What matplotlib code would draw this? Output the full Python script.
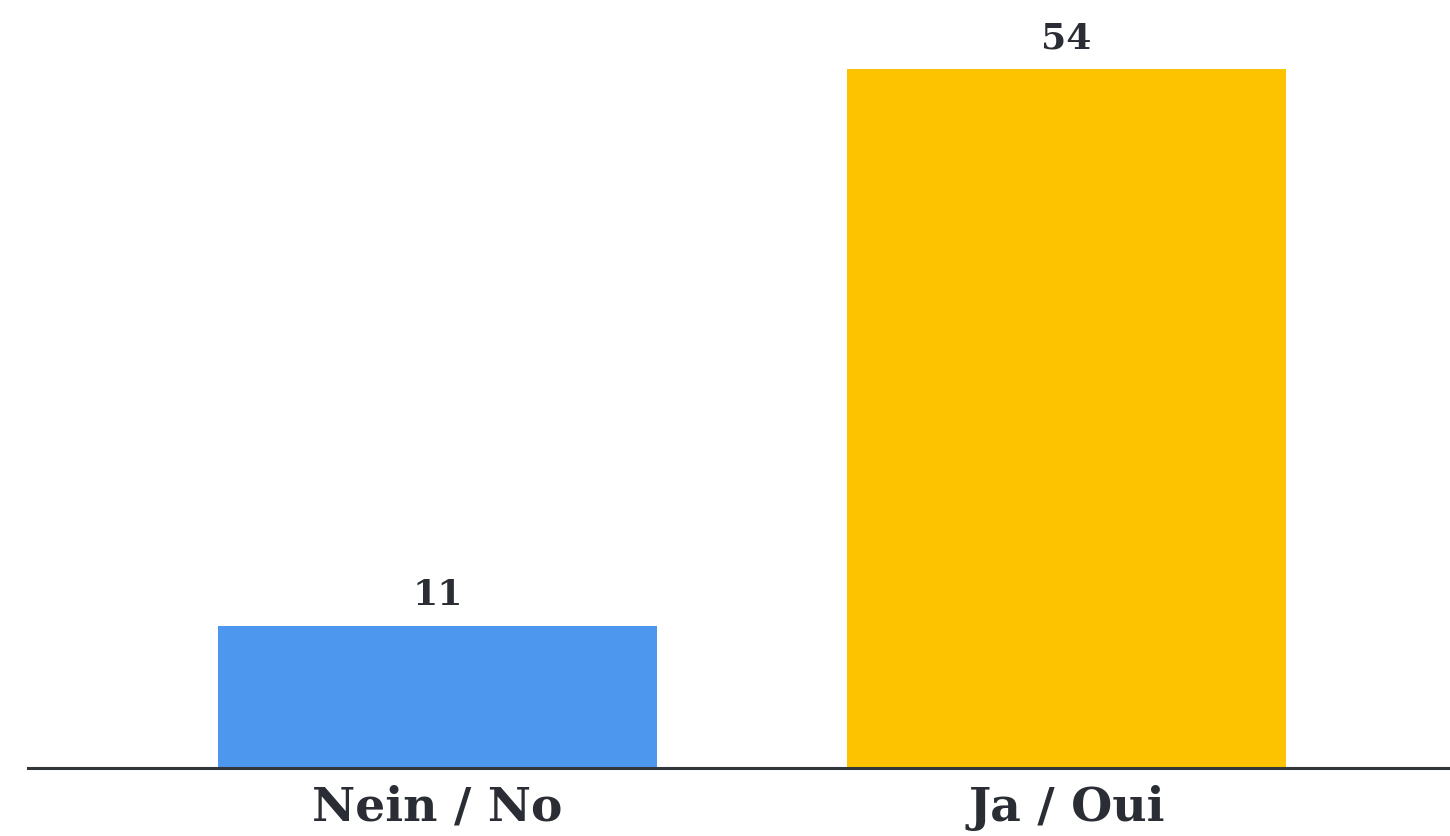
import matplotlib
matplotlib.use("Agg")
import matplotlib.pyplot as plt

# Survey answers and counts
categories = ["Nein / No", "Ja / Oui"]
counts = [11, 54]
bar_colors = ["#4D97EE", "#FDC300"]

TEXT_COLOR = "#2A2D33"
FONT = ["DejaVu Serif"]


def main():
    fig = plt.figure(figsize=(14.5, 8.36), dpi=100)
    ax = fig.add_axes([28 / 1450, 68 / 836, 1 - 28 / 1450, 768 / 836])

    x = list(range(len(categories)))
    bars = ax.bar(x, counts, width=0.698, color=bar_colors, zorder=2)

    for bar, value in zip(bars, counts):
        ax.annotate(str(value),
                    xy=(bar.get_x() + bar.get_width() / 2, bar.get_height()),
                    xytext=(0, 10), textcoords="offset points",
                    ha="center", va="bottom", fontsize=26, fontweight="bold",
                    family=FONT, color=TEXT_COLOR)

    ax.set_xlim(-0.651, 1.61)
    ax.set_ylim(0, 59.35)

    ax.set_xticks(x)
    ax.set_xticklabels(categories, fontsize=34, fontweight="bold",
                       family=FONT, color=TEXT_COLOR)
    ax.tick_params(axis="x", length=0, pad=12)
    ax.set_yticks([])

    for side in ("top", "right", "left"):
        ax.spines[side].set_visible(False)
    ax.spines["bottom"].set_color("#33363B")
    ax.spines["bottom"].set_linewidth(2.2)
    ax.spines["bottom"].set_zorder(3)

    fig.savefig("out.png", dpi=100, facecolor="white")


if __name__ == "__main__":
    main()
